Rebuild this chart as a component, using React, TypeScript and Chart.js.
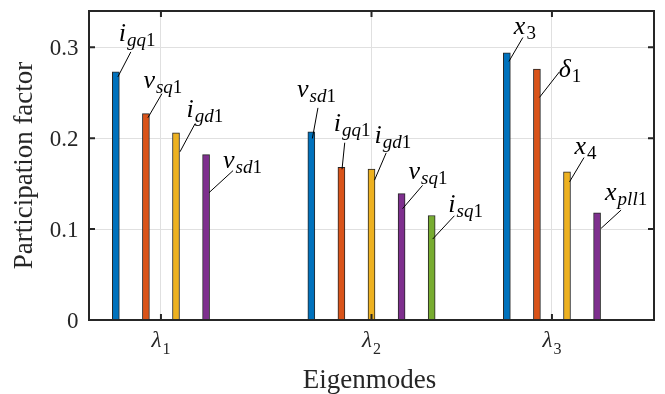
import React, { useEffect, useRef } from 'react';
import { Chart, registerables } from 'chart.js';

Chart.register(...registerables);

// ---------- data ----------
const groupCenters = [1, 2, 3];
const barSpacing = 5 / 6.5 / 5;
const xMin = 0.555;
const xMax = 3.445;
const yMin = 0;
const yMax = 0.34;
const xTickValues = [0.923, 2, 2.923];
const xTickMain = ['λ', 'λ', 'λ'];
const xTickSub = ['1', '2', '3'];
const yTickValues = [0, 0.1, 0.2, 0.3];
const yTickLabels = ['0', '0.1', '0.2', '0.3'];
const xAxisTitle = 'Eigenmodes';
const yAxisTitle = 'Participation factor';

const blueValues = [0.273, 0.207, 0.294];
const orangeValues = [0.227, 0.168, 0.276];
const yellowValues = [0.206, 0.166, 0.163];
const purpleValues = [0.182, 0.139, 0.118];
const greenValues = [null, 0.115, null];

const blueNames = [['i', 'gq1'], ['v', 'sd1'], ['x', '3']];
const orangeNames = [['v', 'sq1'], ['i', 'gq1'], ['δ', '1']];
const yellowNames = [['i', 'gd1'], ['i', 'gd1'], ['x', '4']];
const purpleNames = [['v', 'sd1'], ['v', 'sq1'], ['x', 'pll1']];
const greenNames = [null, ['i', 'sq1'], null];

// ---------- styles / layout ----------
const FONT = '"Liberation Serif", "Times New Roman", serif';
const AXIS_COLOR = '#262626';
const GRID_COLOR = '#e0e0e0';
const seriesColors = ['#0072BD', '#D95319', '#EDB120', '#7E2F8E', '#77AC30'];
const seriesValues = [blueValues, orangeValues, yellowValues, purpleValues, greenValues];
const seriesNames = [blueNames, orangeNames, yellowNames, purpleNames, greenNames];

// callout offsets (px) relative to bar top-center: [startDx, startDy, endDx, endDy, textDx, textDy]
const blueCallouts = [[2, 5, 15, -20, 3, -31], [1, 6.6, 6.6, -24, -14.4, -35], [2, 8.7, 16, -15.3, 7, -19.3]];
const orangeCallouts = [[2, 4, 16, -20, -2.5, -26], [0.6, 2, 3.3, -24.6, -7.7, -36.3], [2.5, 28.3, 22.5, 2.7, 21.8, 8.3]];
const yellowCallouts = [[4, 19, 19, -9, 10.5, -15.6], [3, 11, 14.7, -16.3, 3, -26.6], [2.5, 10, 17, -14.3, 7.5, -17.7]];
const purpleCallouts = [[3, 38, 27, 16, 17, 13], [1, 15, 21, -8.3, 7, -15], [4, 15.6, 24, -2.7, 8, -12.7]];
const greenCallouts = [null, [1, 23.6, 22.7, 0.3, 16.7, -3.7], null];
const seriesCallouts = [blueCallouts, orangeCallouts, yellowCallouts, purpleCallouts, greenCallouts];

const MAIN_SIZE = 26;
const SUB_SIZE = 19;
const SUB_DROP = 5;

function drawMath(
  ctx: CanvasRenderingContext2D,
  main: string,
  sub: string,
  x: number,
  y: number,
  mainSize: number,
  subSize: number,
  subDrop: number,
  align: 'left' | 'center',
  mainItalic = true
) {
  const mainFont = `${mainItalic ? 'italic ' : ''}${mainSize}px ${FONT}`;
  ctx.font = mainFont;
  const mw = ctx.measureText(main).width;
  const pieces = sub.split('').map((ch) => {
    const font = /[0-9]/.test(ch) ? `${subSize}px ${FONT}` : `italic ${subSize}px ${FONT}`;
    ctx.font = font;
    return { ch, font, w: ctx.measureText(ch).width };
  });
  const gap = 1;
  const total = mw + gap + pieces.reduce((a, p) => a + p.w, 0);
  let cx = align === 'center' ? x - total / 2 : x;
  ctx.textAlign = 'left';
  ctx.textBaseline = 'alphabetic';
  ctx.font = mainFont;
  ctx.fillText(main, cx, y);
  cx += mw + gap;
  for (const p of pieces) {
    ctx.font = p.font;
    ctx.fillText(p.ch, cx, y + subDrop);
    cx += p.w;
  }
}

const decorPlugin = {
  id: 'decor',
  afterDatasetsDraw(chart: any) {
    const ctx: CanvasRenderingContext2D = chart.ctx;
    const { left, right, top, bottom } = chart.chartArea;
    const xs = chart.scales.x;
    const ys = chart.scales.y;
    ctx.save();

    // callouts
    seriesValues.forEach((vals, s) => {
      vals.forEach((v, g) => {
        const name = seriesNames[s][g];
        const geo = seriesCallouts[s][g];
        if (v == null || !name || !geo) return;
        const bx = xs.getPixelForValue(groupCenters[g] + (s - 2) * barSpacing);
        const by = ys.getPixelForValue(v);
        ctx.strokeStyle = '#000';
        ctx.lineWidth = 1;
        ctx.beginPath();
        ctx.moveTo(bx + geo[0], by + geo[1]);
        ctx.lineTo(bx + geo[2], by + geo[3]);
        ctx.stroke();
        ctx.fillStyle = '#000';
        drawMath(ctx, name[0], name[1], bx + geo[4], by + geo[5], MAIN_SIZE, SUB_SIZE, SUB_DROP, 'left');
      });
    });

    // box
    ctx.strokeStyle = AXIS_COLOR;
    ctx.lineWidth = 2;
    ctx.strokeRect(left, top, right - left, bottom - top);

    // tick marks
    ctx.lineWidth = 2;
    const tl = 6;
    yTickValues.forEach((v) => {
      const y = ys.getPixelForValue(v);
      ctx.beginPath();
      ctx.moveTo(left, y);
      ctx.lineTo(left + tl, y);
      ctx.moveTo(right, y);
      ctx.lineTo(right - tl, y);
      ctx.stroke();
    });
    xTickValues.forEach((v) => {
      const x = xs.getPixelForValue(v);
      ctx.beginPath();
      ctx.moveTo(x, bottom);
      ctx.lineTo(x, bottom - tl);
      ctx.moveTo(x, top);
      ctx.lineTo(x, top + tl);
      ctx.stroke();
    });

    // y tick labels
    ctx.fillStyle = AXIS_COLOR;
    ctx.font = `23px ${FONT}`;
    ctx.textAlign = 'right';
    ctx.textBaseline = 'alphabetic';
    yTickValues.forEach((v, i) => {
      const y = ys.getPixelForValue(v);
      ctx.fillText(yTickLabels[i], left - 10.5, y + 7.5);
    });

    // x tick labels
    xTickValues.forEach((v, i) => {
      const x = xs.getPixelForValue(v);
      drawMath(ctx, xTickMain[i], xTickSub[i], x, bottom + 26.5, 23, 16, 7, 'center');
    });

    // axis titles
    ctx.fillStyle = AXIS_COLOR;
    ctx.font = `27px ${FONT}`;
    ctx.textAlign = 'center';
    ctx.textBaseline = 'alphabetic';
    ctx.fillText(xAxisTitle, (left + right) / 2 - 2, 388);
    ctx.save();
    ctx.translate(32, (top + bottom) / 2);
    ctx.rotate(-Math.PI / 2);
    ctx.fillText(yAxisTitle, 0, 0);
    ctx.restore();

    ctx.restore();
  },
};

export default function App() {
  const canvasRef = useRef<HTMLCanvasElement | null>(null);

  useEffect(() => {
    const canvas = canvasRef.current;
    if (!canvas) return;
    const datasets = seriesValues.map((vals, s) => ({
      label: `s${s + 1}`,
      data: vals
        .map((v, g) => (v == null ? null : { x: groupCenters[g] + (s - 2) * barSpacing, y: v }))
        .filter((p) => p !== null) as { x: number; y: number }[],
      backgroundColor: seriesColors[s],
      borderColor: AXIS_COLOR,
      borderWidth: 1,
      borderSkipped: 'start' as const,
      barThickness: 7,
      grouped: false,
    }));

    const chart = new Chart(canvas, {
      type: 'bar',
      data: { datasets },
      options: {
        animation: false,
        responsive: false,
        devicePixelRatio: 1,
        layout: { padding: { top: 11, right: 11, left: 0, bottom: 0 } },
        plugins: { legend: { display: false }, tooltip: { enabled: false }, title: { display: false } },
        scales: {
          x: {
            type: 'linear',
            min: xMin,
            max: xMax,
            offset: false,
            grid: { display: true, color: GRID_COLOR, lineWidth: 1, drawTicks: false, offset: false },
            border: { display: false },
            ticks: { display: false },
            afterBuildTicks: (scale: any) => {
              scale.ticks = xTickValues.map((v) => ({ value: v }));
            },
            afterFit: (scale: any) => {
              scale.height = 74;
            },
          },
          y: {
            type: 'linear',
            min: yMin,
            max: yMax,
            grid: { display: true, color: GRID_COLOR, lineWidth: 1, drawTicks: false },
            border: { display: false },
            ticks: { display: false },
            afterBuildTicks: (scale: any) => {
              scale.ticks = yTickValues.map((v) => ({ value: v }));
            },
            afterFit: (scale: any) => {
              scale.width = 89;
            },
          },
        },
      } as any,
      plugins: [decorPlugin],
    });

    const fonts: any = (document as any).fonts;
    if (fonts && fonts.load) {
      Promise.all([
        fonts.load(`26px ${FONT}`),
        fonts.load(`italic 26px ${FONT}`),
      ]).then(() => chart.draw()).catch(() => {});
    }

    return () => {
      chart.destroy();
    };
  }, []);

  return (
    <div style={{ position: 'absolute', left: 0, top: 0, width: 665, height: 394, background: '#fff' }}>
      <canvas ref={canvasRef} width={665} height={394} style={{ display: 'block', width: 665, height: 394 }} />
    </div>
  );
}
